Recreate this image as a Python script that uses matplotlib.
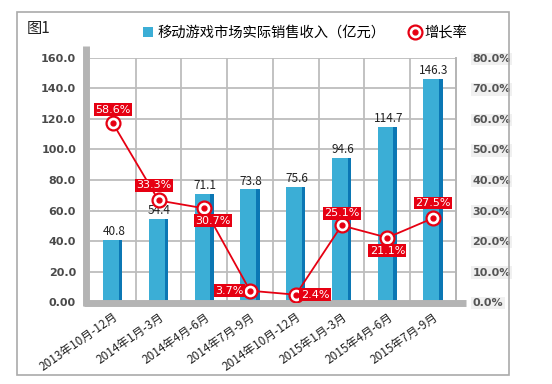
import matplotlib
matplotlib.use("Agg")
import matplotlib.pyplot as plt
from matplotlib.patches import Rectangle, Patch
from matplotlib.lines import Line2D
from matplotlib.legend_handler import HandlerTuple

plt.rcParams['font.family'] = ['Noto Sans CJK SC', 'DejaVu Sans']

# data
quarters = ["2013年10月-12月", "2014年1月-3月", "2014年4月-6月", "2014年7月-9月",
            "2014年10月-12月", "2015年1月-3月", "2015年4月-6月", "2015年7月-9月"]
revenue = [40.8, 54.4, 71.1, 73.8, 75.6, 94.6, 114.7, 146.3]
growth = [58.6, 33.3, 30.7, 3.7, 2.4, 25.1, 21.1, 27.5]
revenue_labels = ["40.8", "54.4", "71.1", "73.8", "75.6", "94.6", "114.7", "146.3"]
growth_labels = ["58.6%", "33.3%", "30.7%", "3.7%", "2.4%", "25.1%", "21.1%", "27.5%"]
left_ticks = ["0.00", "20.0", "40.0", "60.0", "80.0", "100.0", "120.0", "140.0", "160.0"]
right_ticks = ["0.0%", "10.0%", "20.0%", "30.0%", "40.0%", "50.0%", "60.0%", "70.0%", "80.0%"]

BLUE = "#3BAED6"
DARK = "#0B77B4"
RED = "#E60012"
GRAY = "#B4B4B4"

fig = plt.figure(figsize=(5.52, 3.84), dpi=100)
fig.patches.append(Rectangle((0.031, 0.023), 0.891, 0.946, transform=fig.transFigure,
                             fill=False, edgecolor="#AAAAAA", lw=1.2))
fig.text(0.049, 0.927, "图1", fontsize=11, color="#222222", va="center")

ax = fig.add_axes([0.163, 0.2135, 0.663, 0.6355])
x = list(range(len(quarters)))

# bars with darker right strip
ax.bar([i - 0.04 for i in x], revenue, width=0.34, color=BLUE, zorder=2)
ax.bar([i + 0.17 for i in x], revenue, width=0.08, color=DARK, zorder=2)
for i, v in enumerate(revenue):
    ax.text(i + 0.02, v + 1.2, revenue_labels[i], ha="center", va="bottom",
            fontsize=8.5, color="#222222", zorder=4)

ax.set_xlim(-0.5, 7.5)
ax.set_ylim(0, 160)
ax.set_yticks(range(0, 161, 20))
ax.set_yticklabels(left_ticks, fontsize=8, fontweight="bold", color="#4A4A4A",
                   family="DejaVu Sans")
ax.set_xticks(x)
ax.set_xticklabels(quarters, rotation=35, ha="right", rotation_mode="anchor",
                   fontsize=8.5, color="#222222")
ax.set_xticks([i + 0.5 for i in x[:-1]], minor=True)
ax.tick_params(axis="both", which="both", length=0)
ax.tick_params(axis="y", pad=10)
ax.tick_params(axis="x", pad=6)
ax.grid(True, axis="y", color="#BDBDBD", lw=1.3, zorder=0)
ax.grid(True, axis="x", which="minor", color="#BDBDBD", lw=1.3, zorder=0)
for s in ["top", "left", "bottom"]:
    ax.spines[s].set_visible(False)
ax.spines["right"].set_color(GRAY)
ax.spines["right"].set_linewidth(1.2)
# gray wall and floor
ax.plot([-0.577, -0.577], [-2.4, 168], color=GRAY, lw=5, clip_on=False, zorder=3,
        solid_capstyle="butt")
ax.plot([-0.63, 7.72], [-0.8, -0.8], color=GRAY, lw=5, clip_on=False, zorder=3,
        solid_capstyle="butt")

ax2 = ax.twinx()
ax2.set_ylim(0, 80)
ax2.set_yticks(range(0, 81, 10))
ax2.set_yticklabels(right_ticks, fontsize=8, fontweight="bold", color="#555555",
                    family="DejaVu Sans")
for t in ax2.get_yticklabels():
    t.set_bbox(dict(facecolor="#F0F0F0", edgecolor="none", pad=1))
ax2.tick_params(axis="y", length=0, pad=12)
for s in ["top", "left", "bottom"]:
    ax2.spines[s].set_visible(False)
ax2.spines["right"].set_color(GRAY)
ax2.spines["right"].set_linewidth(1.2)

# make sure left labels stay bold after twinx
for t in ax.get_yticklabels():
    t.set_fontweight("bold")
    t.set_fontfamily("DejaVu Sans")

ax2.plot(x, growth, color=RED, lw=1.3, marker="o", ms=10, mfc="white", mec=RED,
         mew=1.6, zorder=5)
ax2.plot(x, growth, ls="none", marker="o", ms=3.5, color=RED, zorder=6)

offsets = [(0, 9), (-0.1, 10), (0.18, -8), (-0.46, 0), (0.42, 0), (0, 8), (0, -8.5), (0, 10)]
for i, g in enumerate(growth):
    dx, dy = offsets[i]
    ax2.text(i + dx, g + dy * 0.5, growth_labels[i], ha="center", va="center",
             fontsize=8, color="white", zorder=7, family="DejaVu Sans",
             bbox=dict(facecolor=RED, edgecolor="none", pad=1))

handles = [Patch(facecolor=BLUE, edgecolor="none"),
           (Line2D([], [], ls="none", marker="o", ms=10, mfc="white", mec=RED, mew=1.6),
            Line2D([], [], ls="none", marker="o", ms=3.5, color=RED))]
fig.legend(handles, ["移动游戏市场实际销售收入（亿元）", "增长率"], ncol=2,
           loc="center", bbox_to_anchor=(0.553, 0.914), frameon=False, fontsize=10.3,
           handlelength=0.7, handleheight=0.7, handletextpad=0.3, columnspacing=1.7,
           handler_map={tuple: HandlerTuple(ndivide=1, pad=0)})

fig.savefig("out.png", dpi=100)
